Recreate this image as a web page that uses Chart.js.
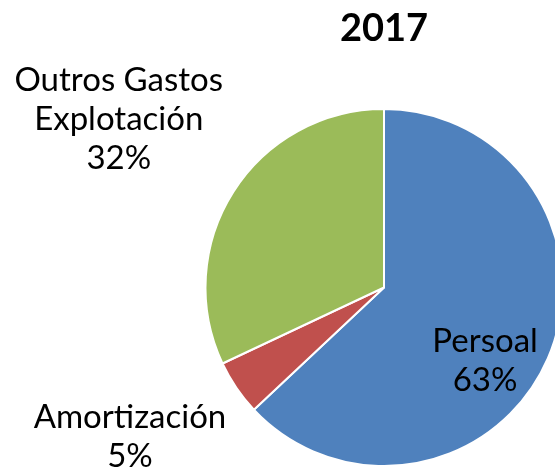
<!DOCTYPE html>
<html>
<head>
<meta charset="utf-8">
<script src="https://cdn.jsdelivr.net/npm/chart.js@4.4.0/dist/chart.umd.min.js"></script>
<style>
  html, body { margin: 0; padding: 0; background: #fff; overflow: hidden; }
  #wrap { position: absolute; left: 0; top: 0; width: 768px; height: 475px; }
</style>
</head>
<body>
<div id="wrap"><canvas id="pie"></canvas></div>
<script>
// 2017 cost breakdown
const title = "2017";
const categories = ["Persoal", "Amortización", "Outros Gastos Explotación"];
const labelLines = [["Persoal"], ["Amortización"], ["Outros Gastos", "Explotación"]];
const values = [63, 5, 32];
const colors = ["#4F81BD", "#C0504D", "#9BBB59"];

// label placement relative to the slice: radius factor + angle nudge (deg)
const labelRadius = [0.70, 1.65, 1.76];
const labelNudge = [12.6, 3.8, 0];

const FONT = "Lato, 'Open Sans', sans-serif";

const sliceLabels = {
  id: "sliceLabels",
  afterDatasetsDraw(chart) {
    const ctx = chart.ctx;
    const meta = chart.getDatasetMeta(0);
    const total = values.reduce((s, v) => s + v, 0);
    ctx.save();
    ctx.fillStyle = "#000";
    ctx.font = "33px " + FONT;
    ctx.textAlign = "center";
    ctx.textBaseline = "middle";
    meta.data.forEach((arc, i) => {
      const { x, y, startAngle, endAngle, outerRadius } =
        arc.getProps(["x", "y", "startAngle", "endAngle", "outerRadius"], true);
      const a = (startAngle + endAngle) / 2 + labelNudge[i] * Math.PI / 180;
      const r = outerRadius * labelRadius[i];
      const cx = x + Math.cos(a) * r;
      const cy = y + Math.sin(a) * r;
      const lines = [...labelLines[i], Math.round(values[i] / total * 100) + "%"];
      const lh = 39;
      lines.forEach((t, k) => {
        ctx.fillText(t, cx, cy + (k - (lines.length - 1) / 2) * lh);
      });
    });
    ctx.restore();
  }
};

new Chart(document.getElementById("pie"), {
  type: "pie",
  data: {
    labels: categories,
    datasets: [{
      data: values,
      backgroundColor: colors,
      borderColor: "#ffffff",
      borderWidth: 2,
    }]
  },
  options: {
    responsive: true, maintainAspectRatio: false,
    animation: false,
    layout: { padding: { top: 0, bottom: 8, left: 204.5, right: 204.5 } },
    plugins: {
      legend: { display: false },
      tooltip: { enabled: false },
      title: {
        display: true, text: title, color: "#000",
        font: { family: FONT, size: 38, weight: "bold", lineHeight: 1.2 },
        padding: { top: 6, bottom: 56.4 }
      }
    }
  },
  plugins: [sliceLabels]
});
</script>
</body>
</html>
